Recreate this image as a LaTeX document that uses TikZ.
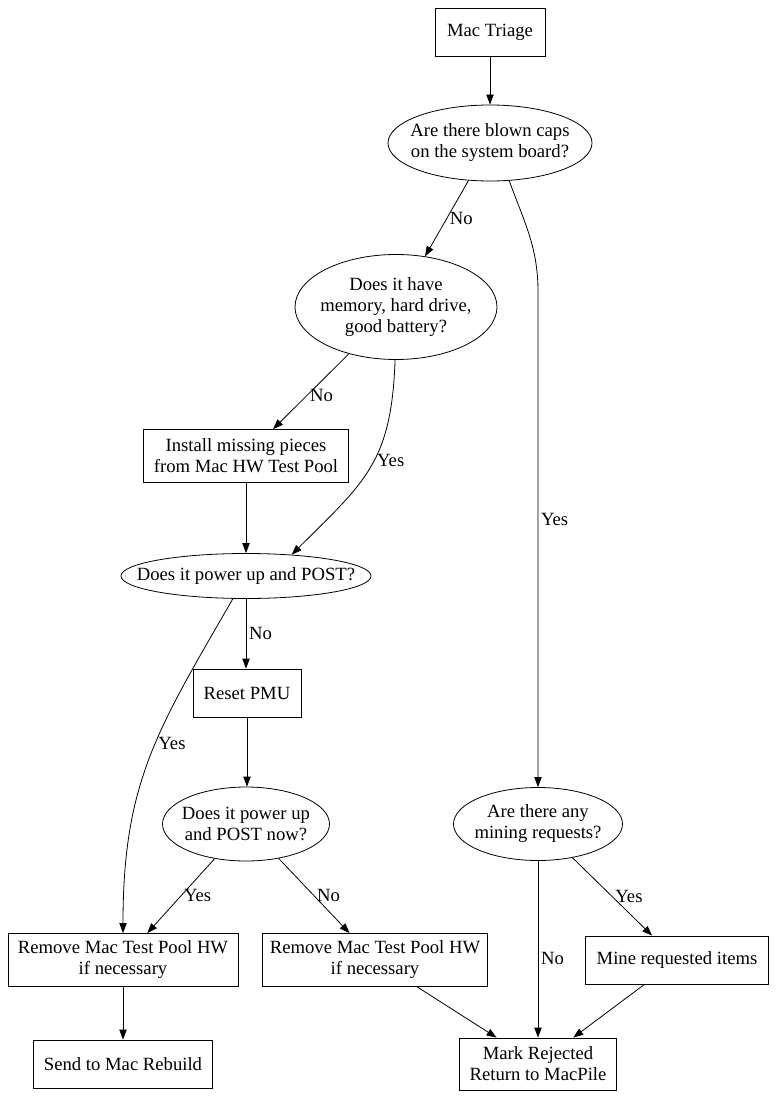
\documentclass[tikz,border=0pt]{standalone}
\usepackage{fontspec}
\setmainfont{Liberation Serif}
\usepackage{tikz}
\usetikzlibrary{
    arrows.meta,
    calc,
    shapes.geometric,
    positioning
}
\tikzset{
    stepbox/.style={rectangle, draw=black, inner sep=0pt, align=center, font=\fontsize{14}{15.75}\selectfont},
    askell/.style={ellipse, draw=black, inner sep=0pt},
    asktext/.style={align=center, inner sep=0pt, font=\fontsize{14}{15.75}\selectfont},
    lbl/.style={right, inner sep=2pt, font=\fontsize{14}{15.75}\selectfont}
}

\begin{document}
\begin{tikzpicture}[x=0.75pt, y=-0.75pt, line width=0.6pt, >={Triangle[length=7.5pt, width=5.5pt]}]
    \useasboundingbox (0, 0) rectangle (778, 1098);
    \node[stepbox, minimum width=82.5pt, minimum height=36pt] (triage) at (490, 32) {Mac Triage};
    \node[askell, minimum width=153pt, minimum height=57pt, label={[asktext]center:Are there blown caps\\on the system board?}] (caps) at (490, 143) {};
    \node[askell, minimum width=151.5pt, minimum height=78.75pt, label={[asktext]center:Does it have\\memory, hard drive,\\good battery?}] (memory) at (396, 307) {};
    \node[stepbox, minimum width=153.75pt, minimum height=39.75pt] (install) at (246, 456) {Install missing pieces\\from Mac HW Test Pool};
    \node[askell, minimum width=187.5pt, minimum height=33.75pt, label={[asktext]center:Does it power up and POST?}] (power) at (246, 576) {};
    \node[stepbox, minimum width=81pt, minimum height=36pt] (reset) at (247, 693) {Reset PMU};
    \node[askell, minimum width=125.25pt, minimum height=55.5pt, label={[asktext]center:Does it power up\\and POST now?}] (powernow) at (246, 824) {};
    \node[askell, minimum width=126.75pt, minimum height=54.75pt, label={[asktext]center:Are there any\\mining requests?}] (mining) at (538, 824) {};
    \node[stepbox, minimum width=172.5pt, minimum height=39.75pt] (removel) at (123, 960) {Remove Mac Test Pool HW\\if necessary};
    \node[stepbox, minimum width=168.75pt, minimum height=39.75pt] (remover) at (375, 960) {Remove Mac Test Pool HW\\if necessary};
    \node[stepbox, minimum width=137.25pt, minimum height=36pt] (mine) at (677, 960) {Mine requested items};
    \node[stepbox, minimum width=134.25pt, minimum height=36pt] (send) at (123, 1064) {Send to Mac Rebuild};
    \node[stepbox, minimum width=117.75pt, minimum height=39pt] (mark) at (538, 1064) {Mark Rejected\\Return to MacPile};
    \coordinate (capsbend) at (538, 292);

    \draw
    (triage) edge[->] (caps)
    (caps) edge[->] node[lbl] {No} (memory)
    (memory) edge[->] node[lbl, pos=.55] {No} (install)
    (memory.-91) edge[->, out=-92, in=45, looseness=1.2] node[lbl, pos=.45] {Yes} (power.25)
    (install.south) edge[->] (install.south |- power.north)
    (power) edge[->] node[lbl] {No} (power |- reset.north)
    (power.240) edge[->, out=240, in=90, looseness=1.1] node[lbl, pos=.45] {Yes} (removel.north)
    (reset) edge[->] (reset |- powernow.north)
    (powernow) edge[->] node[lbl] {Yes} (removel)
    (powernow) edge[->] node[lbl] {No} (remover)
    (mining) edge[->] node[lbl] {Yes} (mine)
    (mining) edge[->] node[lbl, pos=.55] {No} (mark)
    (remover) edge[->] (mark)
    (mine) edge[->] (mark)
    (removel) edge[->] (send);
    \draw[->] (caps.-63) to[out=-70, in=90] (capsbend) -- node[lbl, pos=.46] {Yes} (mining);
\end{tikzpicture}
\end{document}
